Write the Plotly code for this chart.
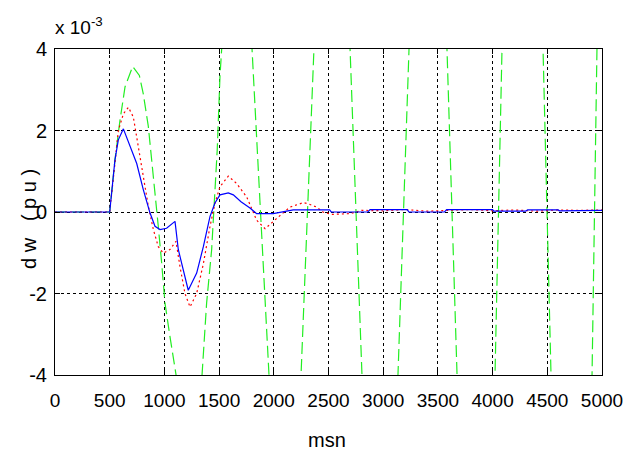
import plotly.graph_objects as go

# Blue (solid) series
blue_x = [0, 500, 548, 579, 625, 686, 747, 807, 868, 914, 960, 1020, 1097, 1127, 1173, 1218,
          1295, 1356, 1417, 1462, 1508, 1584, 1630, 1700, 1782, 1843, 1995, 2087, 2178, 2510,
          2525, 2860, 2880, 3220, 3235, 3560, 3580, 4000, 4010, 4300, 4320, 4600, 4610, 5000]
blue_y = [0, 0, 1.28, 1.77, 2.04, 1.6, 1.19, 0.55, -0.02, -0.35, -0.43, -0.4, -0.23, -0.92, -1.42, -1.92,
          -1.5, -0.85, -0.11, 0.22, 0.42, 0.47, 0.42, 0.25, 0.1, -0.04, -0.04, 0.0, 0.05, 0.05,
          0.0, 0.0, 0.06, 0.06, 0.0, 0.0, 0.06, 0.06, 0.02, 0.02, 0.05, 0.05, 0.03, 0.04]

# Red (dotted) series
red_x = [0, 500, 548, 579, 625, 671, 716, 762, 807, 853, 899, 944, 990, 1051, 1106, 1143, 1188,
         1234, 1295, 1356, 1417, 1462, 1508, 1584, 1660, 1752, 1843, 1920, 2026, 2148, 2270, 2316,
         2392, 2450, 2529, 2697, 2803, 3000, 3200, 3400, 3600, 3800, 4000, 4200, 4400, 4600, 4800, 5000]
red_y = [0, 0, 1.2, 2.0, 2.41, 2.57, 2.33, 1.6, 0.87, 0.14, -0.43, -0.85, -1.01, -0.92, -0.72, -1.35, -2.0,
         -2.33, -2.0, -1.27, -0.35, 0.21, 0.62, 0.88, 0.7, 0.37, -0.2, -0.41, -0.16, 0.12, 0.23, 0.2,
         0.12, 0.0, -0.06, -0.04, 0.04, 0.03, 0.06, 0.02, 0.04, 0.06, 0.03, 0.05, 0.02, 0.05, 0.04, 0.05]

# Green (dashed) series - growing oscillation, leaves the visible range
green_x = [0, 500, 548, 594, 640, 710, 771, 807, 853, 884, 914, 944, 975, 1005, 1051, 1106, 1225,
           1344, 1386, 1432, 1462, 1483, 1508, 1523, 1660, 1801, 1956, 2100, 2249, 2367, 2530,
           2697, 2806, 2970, 3135, 3236, 3410, 3583, 3675, 3850, 4022, 4086, 4275, 4461, 4534,
           4720, 4909, 4954, 5000]
green_y = [0, 0, 1.28, 2.25, 3.07, 3.57, 3.35, 2.9, 2.1, 1.28, 0.55, -0.35, -1.25, -2.23, -3.06, -4.0, -6.0,
           -4.0, -2.23, -0.92, 0.55, 1.53, 3.33, 3.98, 8.0, 4.0, -4.0, -9.0, -4.0, 4.0, 11.0,
           4.0, -4.0, -12.0, -4.0, 4.0, 13.0, 4.0, -4.0, -14.0, -4.0, 4.0, 15.0, 4.0, -4.0,
           -16.0, -4.0, 4.0, 9.0]

x_ticks = [0, 500, 1000, 1500, 2000, 2500, 3000, 3500, 4000, 4500, 5000]
y_ticks = [-4, -2, 0, 2, 4]

FONT = "Liberation Sans Narrow, Liberation Sans, Arial, sans-serif"

fig = go.Figure()
fig.add_trace(go.Scatter(x=green_x, y=green_y, mode="lines",
                         line=dict(color="#22ee22", width=1.2, dash="12px,5px")))
fig.add_trace(go.Scatter(x=red_x, y=red_y, mode="lines",
                         line=dict(color="#ff0000", width=1.2, dash="2px,3px")))
fig.add_trace(go.Scatter(x=blue_x, y=blue_y, mode="lines",
                         line=dict(color="#0000ff", width=1.2)))

fig.update_layout(
    width=635, height=457,
    margin=dict(l=55, r=33, t=49, b=82, autoexpand=False),
    paper_bgcolor="white", plot_bgcolor="white",
    showlegend=False,
    font=dict(family=FONT, size=19, color="black"),
)
fig.update_xaxes(range=[0, 5000], tickvals=x_ticks, ticktext=[str(v) for v in x_ticks],
                 showline=True, linecolor="black", linewidth=1, mirror="ticks",
                 ticks="inside", ticklen=5, tickcolor="black", ticklabelstandoff=8,
                 showgrid=True, gridcolor="black", griddash="dot", gridwidth=1,
                 zeroline=False, automargin=False, tickfont=dict(family=FONT, size=19))
fig.update_yaxes(range=[-4, 4], tickvals=y_ticks, ticktext=[str(v) for v in y_ticks],
                 showline=True, linecolor="black", linewidth=1, mirror="ticks",
                 ticks="inside", ticklen=5, tickcolor="black", ticklabelstandoff=3,
                 showgrid=True, gridcolor="black", griddash="dot", gridwidth=1,
                 zeroline=False, automargin=False, tickfont=dict(family=FONT, size=20))
fig.add_annotation(text="msn", xref="paper", yref="paper",
                   x=0.497, y=-0.2, xanchor="center", yanchor="middle",
                   showarrow=False, font=dict(family=FONT, size=20))
fig.add_annotation(text="d w   ( p u )", xref="paper", yref="paper",
                   x=-0.048, y=0.478, xanchor="center", yanchor="middle",
                   textangle=-90, showarrow=False, font=dict(family=FONT, size=20))
fig.add_annotation(text="x 10<sup>-3</sup>", xref="paper", yref="paper", x=0, y=1.0,
                   xanchor="left", yanchor="bottom", yshift=9, xshift=-2, showarrow=False,
                   font=dict(family=FONT, size=19))

fig.write_html("out.html", config={"displayModeBar": False},
               post_script="document.body.style.margin='0';")
